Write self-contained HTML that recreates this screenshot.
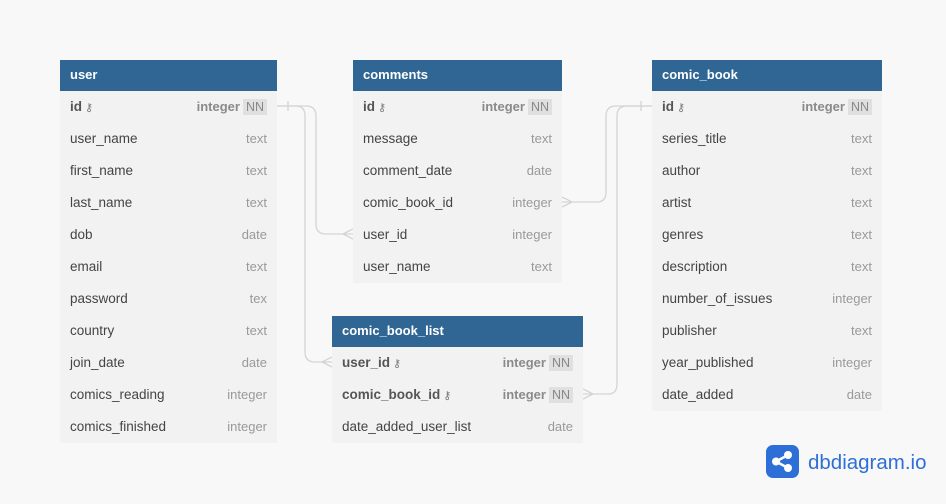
<!DOCTYPE html>
<html><head><meta charset="utf-8"><style>
body{margin:0;width:946px;height:504px;background:#f8f8f9;font-family:"Liberation Sans",sans-serif;position:relative;overflow:hidden}
.t{position:absolute;background:#f2f2f2}
.h{height:31px;background:#2f6694;color:#fff;font-weight:bold;font-size:13px;line-height:29px;padding-left:10px}
.r{height:32px;line-height:32px;font-size:13.5px;color:#444;padding:0 10px;position:relative}
.r .ty{position:absolute;right:10px;top:0;color:#999;font-size:13px}
.r.b{font-weight:bold;color:#555}
.r.b .ty{font-weight:bold;color:#8a8a8a}
.nn{background:#e0e0e0;color:#888;font-weight:normal;padding:1px 3px;margin-left:3px;font-size:12.5px}
.k{font-weight:normal;color:#777;font-size:11px;margin-left:3px}
</style></head><body>
<svg width="946" height="504" style="position:absolute;left:0;top:0" fill="none" stroke="#d4d4d4" stroke-width="1.3">
<path d="M277 106 H306 Q316 106 316 116 V224 Q316 234 326 234 H353"/>
<path d="M277 106 H296 Q305 106 305 116 V352 Q305 362 315 362 H332"/>
<path d="M562 202 H597 Q606 202 606 192 V116 Q606 106 616 106 H652"/>
<path d="M583 394 H608 Q617 394 617 384 V116 Q617 106 627 106 H652"/>
<path d="M288 101 V111 M641 101 V111"/>
<path d="M353 229 L343 234 L353 239 M332 357 L322 362 L332 367 M562 197 L572 202 L562 207 M583 389 L593 394 L583 399"/>
</svg>
<div class="t" style="left:60px;top:60px;width:217px">
<div class="h">user</div>
<div class="r b">id<span class="k">⚷</span><span class="ty">integer<span class="nn">NN</span></span></div>
<div class="r">user_name<span class="ty">text</span></div>
<div class="r">first_name<span class="ty">text</span></div>
<div class="r">last_name<span class="ty">text</span></div>
<div class="r">dob<span class="ty">date</span></div>
<div class="r">email<span class="ty">text</span></div>
<div class="r">password<span class="ty">tex</span></div>
<div class="r">country<span class="ty">text</span></div>
<div class="r">join_date<span class="ty">date</span></div>
<div class="r">comics_reading<span class="ty">integer</span></div>
<div class="r">comics_finished<span class="ty">integer</span></div>
</div>
<div class="t" style="left:353px;top:60px;width:209px">
<div class="h">comments</div>
<div class="r b">id<span class="k">⚷</span><span class="ty">integer<span class="nn">NN</span></span></div>
<div class="r">message<span class="ty">text</span></div>
<div class="r">comment_date<span class="ty">date</span></div>
<div class="r">comic_book_id<span class="ty">integer</span></div>
<div class="r">user_id<span class="ty">integer</span></div>
<div class="r">user_name<span class="ty">text</span></div>
</div>
<div class="t" style="left:652px;top:60px;width:230px">
<div class="h">comic_book</div>
<div class="r b">id<span class="k">⚷</span><span class="ty">integer<span class="nn">NN</span></span></div>
<div class="r">series_title<span class="ty">text</span></div>
<div class="r">author<span class="ty">text</span></div>
<div class="r">artist<span class="ty">text</span></div>
<div class="r">genres<span class="ty">text</span></div>
<div class="r">description<span class="ty">text</span></div>
<div class="r">number_of_issues<span class="ty">integer</span></div>
<div class="r">publisher<span class="ty">text</span></div>
<div class="r">year_published<span class="ty">integer</span></div>
<div class="r">date_added<span class="ty">date</span></div>
</div>
<div class="t" style="left:332px;top:316px;width:251px">
<div class="h">comic_book_list</div>
<div class="r b">user_id<span class="k">⚷</span><span class="ty">integer<span class="nn">NN</span></span></div>
<div class="r b">comic_book_id<span class="k">⚷</span><span class="ty">integer<span class="nn">NN</span></span></div>
<div class="r">date_added_user_list<span class="ty">date</span></div>
</div>
<div style="position:absolute;left:766px;top:445px;width:33px;height:33px;background:#2d6fd6;border-radius:7px">
<svg width="33" height="33" viewBox="0 0 33 33"><path d="M10 16.5 L22 10 M10 16.5 L22 23" stroke="#fff" stroke-width="2.5"/><circle cx="10" cy="16.5" r="4" fill="#fff"/><circle cx="22" cy="10" r="4" fill="#fff"/><circle cx="22" cy="23" r="4" fill="#fff"/></svg>
</div>
<div style="position:absolute;left:808px;top:449px;font-size:20.5px;color:#2d6fd6;line-height:28px">dbdiagram.io</div>
</body></html>
